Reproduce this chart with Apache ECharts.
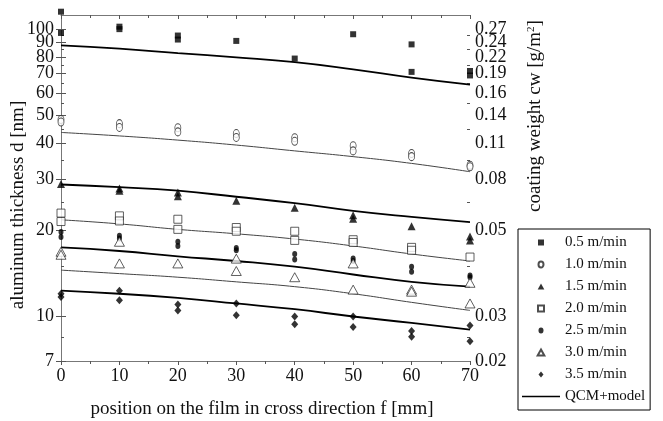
<!DOCTYPE html>
<html>
<head>
<meta charset="utf-8">
<script src="https://cdn.jsdelivr.net/npm/echarts@6/dist/echarts.min.js"></script>
<style>
  html, body { margin: 0; padding: 0; background: #fff; }
</style>
</head>
<body>
<div id="chart" style="width: 663px; height: 421px;"></div>
<script>
// measured points [position mm, thickness nm]
const s05 = [[0,115],[0,97],[10,102],[10,100],[20,95],[20,92],[30,91],[40,79],[50,96],[60,88.5],[60,71],[70,71.5],[70,69]];
const s10 = [[0,48.5],[0,47.5],[10,46.9],[10,45.5],[20,45.4],[20,43.9],[30,43.3],[30,42],[40,41.9],[40,40.7],[50,39.3],[50,37.7],[60,36.9],[60,36],[70,33.6],[70,33.2]];
const s15 = [[0,28.9],[10,27.9],[10,27.4],[20,27.0],[20,26.2],[30,25.3],[40,23.9],[50,22.5],[50,21.9],[60,20.6],[70,19.0],[70,18.4]];
const s20 = [[0,22.9],[0,21.4],[10,22.4],[10,21.5],[20,21.8],[20,20.1],[30,20.4],[30,19.8],[40,19.8],[40,18.4],[50,18.5],[50,18.1],[60,17.4],[60,17.0],[70,16.1]];
const s25 = [[0,19.7],[0,18.9],[10,19.1],[10,18.7],[20,18.2],[20,17.6],[30,17.3],[30,17.0],[40,16.5],[40,15.8],[50,15.9],[50,15.6],[60,14.9],[60,14.3],[70,13.9],[70,13.7]];
const s30 = [[0,16.8],[0,16.4],[10,18.2],[10,15.3],[20,15.3],[30,15.9],[30,14.4],[40,13.7],[50,15.3],[50,12.4],[60,12.4],[60,12.2],[70,13.1],[70,11.1]];
const s35 = [[0,12.0],[0,11.7],[10,12.3],[10,11.4],[20,11.0],[20,10.5],[30,11.1],[30,10.1],[40,10.0],[40,9.4],[50,10.0],[50,9.2],[60,8.9],[60,8.5],[70,9.3],[70,8.2]];

// QCM+model curves
const fitX  = [0,10,20,30,40,50,60,70];
const fit05 = [87.8,85.5,82.5,79.8,76.8,72.5,67.8,64.1];
const fit10 = [43.7,42.5,41.1,39.5,37.7,36.0,34.1,31.9];
const fit15 = [28.8,28.2,27.4,26.1,24.8,23.3,22.2,21.3];
const fit20 = [21.7,21.0,20.1,19.4,18.6,17.6,16.5,15.6];
const fit25 = [17.4,16.9,16.2,15.6,14.9,14.0,13.2,12.7];
const fit30 = [14.5,14.1,13.7,13.2,12.7,12.0,11.2,10.5];
const fit35 = [12.3,12.0,11.6,11.1,10.6,10.0,9.5,9.0];

// axis ticks
const leftTicks = [7,10,20,30,40,50,60,70,80,90,100];
const rightLabels = ['0.02','0.03','0.05','0.08','0.11','0.14','0.16','0.19','0.22','0.24','0.27'];
const minorTicks = [8.5,15,25,35,45,55,65,75,85,95];
const crowdedTicks = [90]; // labelled on a helper axis so it is not dropped as overlapping
const yMin = 7, yMax = 112;

const lg = v => Math.log10(v);
const FONT = 'Liberation Serif';

function toLog(pts) {
  return pts.map(p => [p[0], lg(p[1])]);
}
function fitData(ys) {
  return fitX.map((x, i) => [x, lg(ys[i])]);
}
function tickIndex(v) {
  return leftTicks.findIndex(t => Math.abs(lg(t) - v) < 1e-6);
}

// legend icons as paths so they keep their aspect inside the wide item box
const icons = {
  rect: 'path://M0,0h10v10h-10z',
  circle: 'path://M5,0A5,6 0 1,1 4.99,0z',
  triangle: 'path://M5,0L10,9L0,9z',
  diamond: 'path://M5,0L10,6L5,12L0,6z',
  line: 'path://M0,0h40v1.6h-40z'
};

const scatterDefs = [
  { name: '0.5 m/min', data: s05, symbol: 'rect', size: 6, open: false },
  { name: '1.0 m/min', data: s10, symbol: 'circle', size: [6, 8], open: true },
  { name: '1.5 m/min', data: s15, symbol: 'triangle', size: 8, open: false },
  { name: '2.0 m/min', data: s20, symbol: 'rect', size: 8, open: true },
  { name: '2.5 m/min', data: s25, symbol: 'circle', size: [5, 6], open: false },
  { name: '3.0 m/min', data: s30, symbol: 'triangle', size: [10, 9], open: true },
  { name: '3.5 m/min', data: s35, symbol: 'diamond', size: [7, 8], open: false }
];

const fitDefs = [
  { name: 'QCM+model', data: fit05, thick: true },
  { name: 'model 1.0', data: fit10, thick: false },
  { name: 'model 1.5', data: fit15, thick: true },
  { name: 'model 2.0', data: fit20, thick: false },
  { name: 'model 2.5', data: fit25, thick: true },
  { name: 'model 3.0', data: fit30, thick: false },
  { name: 'model 3.5', data: fit35, thick: true }
];

let series = [];
for (let f of fitDefs) {
  series.push({
    name: f.name,
    type: 'line',
    smooth: true,
    symbol: 'none',
    z: 1,
    data: fitData(f.data),
    lineStyle: { color: f.thick ? '#000' : '#444', width: f.thick ? 1.8 : 1 },
    itemStyle: { color: '#000' }
  });
}
for (let s of scatterDefs) {
  series.push({
    name: s.name,
    type: 'scatter',
    clip: false,
    z: 3,
    symbol: s.symbol,
    symbolSize: s.size,
    data: toLog(s.data),
    itemStyle: s.open
      ? { color: '#fff', borderColor: '#222', borderWidth: 0.9 }
      : { color: '#000' }
  });
}

const legendData = scatterDefs.map(s => ({ name: s.name, icon: icons[s.symbol] }));
legendData.push({ name: 'QCM+model', icon: icons.line });

const labelStyle = { fontFamily: FONT, fontSize: 18, color: '#111' };
const axisLine = { show: true, lineStyle: { color: '#777', width: 1 } };
const mainLabelVals = leftTicks.filter(t => crowdedTicks.indexOf(t) < 0).map(lg);

function helperAxis(position, labelFormatter, margin) {
  return {
    type: 'value', min: lg(yMin), max: lg(yMax), position: position,
    axisLine: { show: false },
    splitLine: { show: false },
    axisTick: { inside: true, length: 3, customValues: minorTicks.map(lg), lineStyle: { color: '#555' } },
    axisLabel: Object.assign({
      margin: margin,
      customValues: crowdedTicks.map(lg),
      formatter: labelFormatter
    }, labelStyle)
  };
}

let option = {
  animation: false,
  grid: { left: 61, right: 193, top: 15, bottom: 60 },
  legend: {
    orient: 'vertical',
    left: 518,
    top: 229,
    padding: [6, 5, 6, 4],
    itemWidth: 38,
    itemHeight: 6,
    itemGap: 7,
    borderColor: '#000',
    borderWidth: 1,
    textStyle: { fontFamily: FONT, fontSize: 15, color: '#111' },
    data: legendData
  },
  xAxis: [
    {
      type: 'value', min: 0, max: 70, interval: 10,
      axisLine: axisLine,
      axisTick: { length: 4, lineStyle: { color: '#555' } },
      minorTick: { show: true, splitNumber: 2, length: 3, lineStyle: { color: '#555' } },
      splitLine: { show: false },
      axisLabel: Object.assign({ margin: 6 }, labelStyle)
    },
    {
      type: 'value', min: 0, max: 70, interval: 10, position: 'top',
      axisLine: axisLine,
      axisTick: { inside: true, length: 4, lineStyle: { color: '#555' } },
      minorTick: { show: true, splitNumber: 2, length: 3, lineStyle: { color: '#555' } },
      splitLine: { show: false },
      axisLabel: { show: false }
    }
  ],
  yAxis: [
    {
      type: 'value', min: lg(yMin), max: lg(yMax), position: 'left',
      axisLine: axisLine,
      splitLine: { show: false },
      axisTick: { length: 5, customValues: leftTicks.map(lg), lineStyle: { color: '#555' } },
      axisLabel: Object.assign({
        margin: 7,
        hideOverlap: false,
        customValues: mainLabelVals,
        formatter: v => String(leftTicks[tickIndex(v)])
      }, labelStyle)
    },
    {
      type: 'value', min: lg(yMin), max: lg(yMax), position: 'right',
      axisLine: axisLine,
      splitLine: { show: false },
      axisTick: { length: 5, customValues: leftTicks.map(lg), lineStyle: { color: '#555' } },
      axisLabel: Object.assign({
        margin: 5,
        hideOverlap: false,
        customValues: mainLabelVals,
        formatter: v => rightLabels[tickIndex(v)]
      }, labelStyle)
    },
    // minor ticks + crowded labels
    helperAxis('left', v => String(leftTicks[tickIndex(v)]), 7),
    helperAxis('right', v => rightLabels[tickIndex(v)], 5)
  ],
  graphic: [
    {
      type: 'text', x: 18, y: 205, rotation: Math.PI / 2,
      style: {
        text: 'aluminum thickness d [nm]', fontFamily: FONT, fontSize: 19,
        fill: '#111', align: 'center', verticalAlign: 'middle'
      }
    },
    {
      type: 'text', x: 535, y: 116, rotation: Math.PI / 2,
      style: {
        text: 'coating weight cw [g/m{sup|2}]', fontFamily: FONT, fontSize: 19,
        fill: '#111', align: 'center', verticalAlign: 'middle',
        rich: { sup: { fontFamily: FONT, fontSize: 11, verticalAlign: 'top', padding: [0, 0, 8, 0] } }
      }
    },
    {
      type: 'text', x: 262, y: 409,
      style: {
        text: 'position on the film in cross direction f [mm]', fontFamily: FONT, fontSize: 19,
        fill: '#111', align: 'center', verticalAlign: 'middle'
      }
    }
  ],
  series: series
};

let myChart = echarts.init(document.getElementById('chart'));
myChart.setOption(option);
</script>
</body>
</html>
